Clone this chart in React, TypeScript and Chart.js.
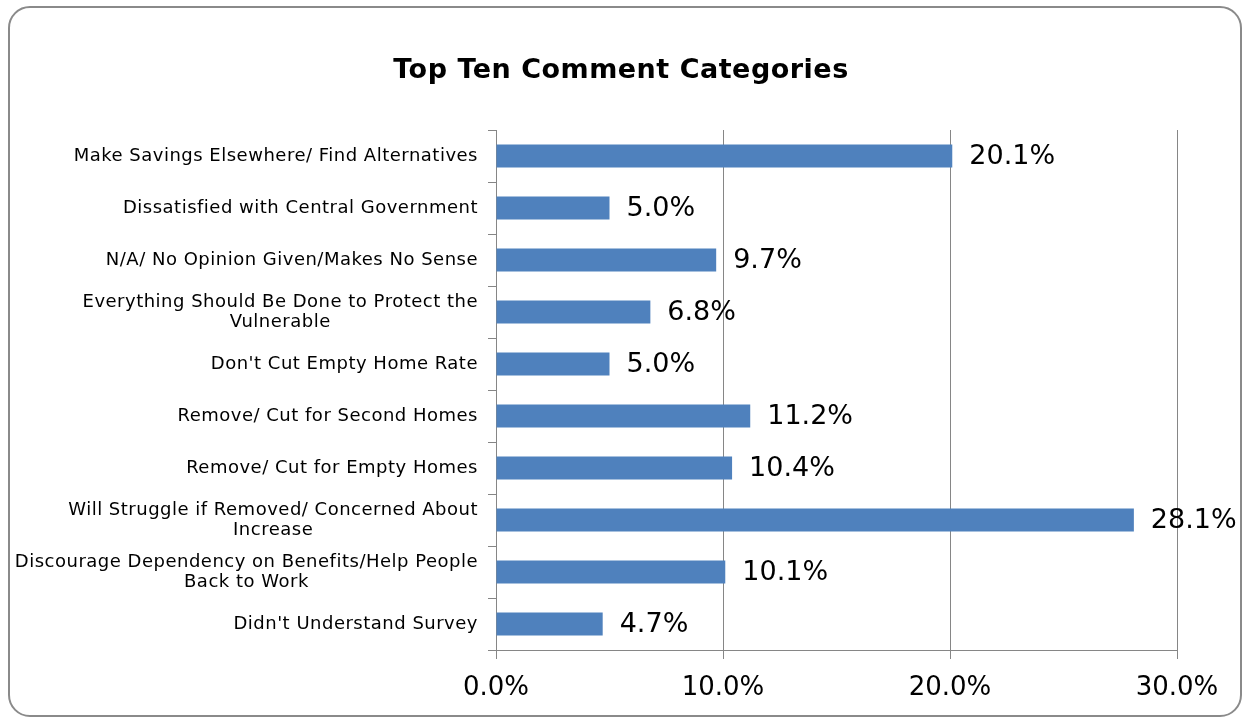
import React, { useEffect, useRef } from "react";
import { Chart, registerables } from "chart.js";

Chart.register(...registerables);

const categories: string[][] = [
  ["Make Savings Elsewhere/ Find Alternatives"],
  ["Dissatisfied with Central Government"],
  ["N/A/ No Opinion Given/Makes No Sense"],
  ["Everything Should Be Done to Protect the", "Vulnerable"],
  ["Don't Cut Empty Home Rate"],
  ["Remove/ Cut for Second Homes"],
  ["Remove/ Cut for Empty Homes"],
  ["Will Struggle if Removed/ Concerned About", "Increase"],
  ["Discourage Dependency on Benefits/Help People", "Back to Work"],
  ["Didn't Understand Survey"],
];
const values: number[] = [20.1, 5.0, 9.7, 6.8, 5.0, 11.2, 10.4, 28.1, 10.1, 4.7];
const xTicks: number[] = [0, 10, 20, 30];
const title = "Top Ten Comment Categories";

const FONT = '"DejaVu Sans", Verdana, sans-serif';

const overlayPlugin = {
  id: "overlay",
  afterDraw(chart: any) {
    const ctx = chart.ctx as CanvasRenderingContext2D;
    const yScale = chart.scales.y;
    const area = chart.chartArea;
    // title
    ctx.save();
    ctx.fillStyle = "#000";
    ctx.font = `bold 27px ${FONT}`;
    (ctx as any).letterSpacing = "0.5px";
    ctx.textAlign = "center";
    ctx.textBaseline = "middle";
    ctx.fillText(title, 621, 71);
    ctx.restore();

    // category labels
    ctx.save();
    ctx.fillStyle = "#000";
    ctx.font = `18px ${FONT}`;
    (ctx as any).letterSpacing = "0.5px";
    ctx.textAlign = "center";
    ctx.textBaseline = "middle";
    const rightEdge = area.left - 18;
    const lh = 20;
    categories.forEach((lines, i) => {
      const yc = yScale.getPixelForValue(i);
      const w = Math.max(...lines.map((l) => ctx.measureText(l).width));
      const cx = rightEdge - w / 2;
      const y0 = yc - ((lines.length - 1) * lh) / 2;
      lines.forEach((l, k) => ctx.fillText(l, cx, y0 + k * lh));
    });
    ctx.restore();

    // value labels
    ctx.save();
    ctx.fillStyle = "#000";
    ctx.font = `27px ${FONT}`;
    ctx.textAlign = "left";
    ctx.textBaseline = "middle";
    const meta = chart.getDatasetMeta(0);
    meta.data.forEach((bar: any, i: number) => {
      ctx.fillText(values[i].toFixed(1) + "%", bar.x + 17, bar.y + 1);
    });
    ctx.restore();
  },
};

export default function App() {
  const ref = useRef<HTMLCanvasElement>(null);
  useEffect(() => {
    if (!ref.current) return;
    const chart = new Chart(ref.current, {
      type: "bar",
      data: {
        labels: categories.map((c) => c.join(" ")),
        datasets: [
          {
            data: values,
            backgroundColor: "#4F81BD",
            borderWidth: 0,
            barPercentage: 0.44,
            categoryPercentage: 1,
          },
        ],
      },
      options: {
        indexAxis: "y",
        responsive: false,
        animation: false,
        layout: { padding: { left: 0, right: 66, top: 130, bottom: 0 } },
        plugins: {
          legend: { display: false },
          tooltip: { enabled: false },
          title: { display: false },
        },
        scales: {
          x: {
            min: 0,
            max: 30,
            afterBuildTicks: (scale: any) => {
              scale.ticks = xTicks.map((v) => ({ value: v }));
            },
            afterFit: (scale: any) => {
              scale.height = 67;
            },
            grid: { color: "#868686", tickLength: 9, lineWidth: 1 },
            border: { color: "#868686" },
            ticks: {
              color: "#000",
              font: { family: FONT, size: 26 },
              padding: 14,
              maxRotation: 0,
              callback: (v: any) => Number(v).toFixed(1) + "%",
            },
          },
          y: {
            afterFit: (scale: any) => {
              scale.width = 496;
            },
            grid: {
              offset: true,
              drawOnChartArea: false,
              color: "#868686",
              tickLength: 8,
            },
            border: { color: "#868686" },
            ticks: { display: false },
          },
        },
      },
      plugins: [overlayPlugin],
    });
    return () => chart.destroy();
  }, []);
  return (
    <div style={{ position: "absolute", left: 0, top: 0, width: 1243, height: 717, background: "#fff" }}>
      <canvas ref={ref} width={1243} height={717} style={{ position: "absolute", left: 0, top: 0 }} />
      <div
        style={{
          position: "absolute",
          left: 8,
          top: 6,
          width: 1230,
          height: 707,
          border: "2px solid #8a8a8a",
          borderRadius: 22,
          pointerEvents: "none",
        }}
      />
    </div>
  );
}
